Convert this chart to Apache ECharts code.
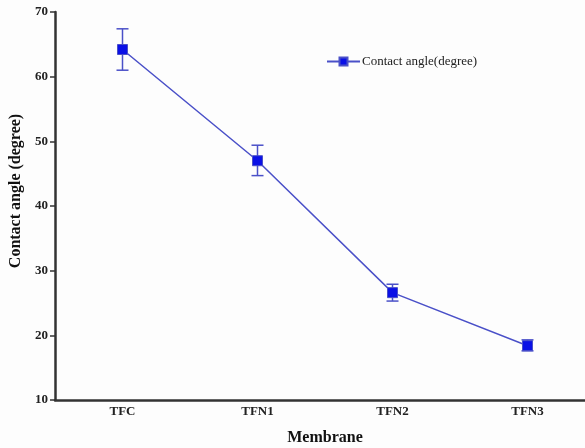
<!DOCTYPE html>
<html><head><meta charset="utf-8">
<script src="https://cdn.jsdelivr.net/npm/echarts@6/dist/echarts.min.js"></script>
<style>html,body{margin:0;padding:0;background:#fdfdfd}#c{width:585px;height:448px}</style>
</head><body><div id="c"></div>
<script>
const categories = ['TFC', 'TFN1', 'TFN2', 'TFN3'];
const contactAngle = [64.2, 47.0, 26.6, 18.4];
const errLow = [61.0, 44.7, 25.3, 17.6];
const errHigh = [67.4, 49.4, 27.9, 19.3];
const yTicks = [10, 20, 30, 40, 50, 60, 70];

const chart = echarts.init(document.getElementById('c'));
const lineColor = '#4a50c8';
const font = '"Liberation Serif", "DejaVu Serif", serif';
chart.setOption({
  backgroundColor: '#fdfdfd',
  animation: false,
  grid: { left: 55, top: 12, width: 540, bottom: 48, outerBoundsMode: 'none', containLabel: false },
  legend: {
    left: 321, top: 50, itemWidth: 33, itemHeight: 10, itemGap: 4,
    textStyle: { fontFamily: font, fontSize: 13, color: '#222', padding: [0, 0, 0, -3] },
    data: ['Contact angle(degree)']
  },
  xAxis: {
    type: 'category', data: categories, boundaryGap: true,
    name: 'Membrane', nameLocation: 'middle', nameGap: 30,
    nameTextStyle: { fontFamily: font, fontSize: 16, fontWeight: 'bold', color: '#111' },
    axisLine: { lineStyle: { color: '#333', width: 2.5 } },
    axisTick: { alignWithLabel: true, length: 5, lineStyle: { color: '#333', width: 1.5 } },
    axisLabel: { fontFamily: font, fontSize: 13, fontWeight: 'bold', color: '#222', margin: 5 }
  },
  yAxis: {
    type: 'value', min: yTicks[0], max: yTicks[yTicks.length - 1], interval: 10,
    name: 'Contact angle (degree)', nameLocation: 'middle', nameGap: 31,
    nameTextStyle: { fontFamily: font, fontSize: 16, fontWeight: 'bold', color: '#111', padding: [0, 0, 0, 30] },
    axisLine: { show: true, lineStyle: { color: '#333', width: 2.5 } },
    axisTick: { show: true, length: 5, lineStyle: { color: '#333', width: 1.5 } },
    axisLabel: { fontFamily: font, fontSize: 13, fontWeight: 'bold', color: '#222', margin: 7 },
    splitLine: { show: false }
  },
  series: [
    {
      name: 'Contact angle(degree)', type: 'line', data: contactAngle,
      symbol: 'rect', symbolSize: 10, z: 3,
      lineStyle: { color: lineColor, width: 1.5 },
      itemStyle: { color: '#0a10e6', borderColor: lineColor, borderWidth: 1 }
    },
    {
      name: 'err', type: 'custom', z: 2,
      data: categories.map((c, i) => [i, errLow[i], errHigh[i]]),
      renderItem: function (params, api) {
        const lo = api.coord([api.value(0), api.value(1)]);
        const hi = api.coord([api.value(0), api.value(2)]);
        const w = 6;
        const st = { stroke: lineColor, lineWidth: 1.5 };
        return { type: 'group', children: [
          { type: 'line', shape: { x1: lo[0], y1: lo[1], x2: hi[0], y2: hi[1] }, style: st },
          { type: 'line', shape: { x1: lo[0] - w, y1: lo[1], x2: lo[0] + w, y2: lo[1] }, style: st },
          { type: 'line', shape: { x1: hi[0] - w, y1: hi[1], x2: hi[0] + w, y2: hi[1] }, style: st }
        ]};
      }
    }
  ]
});
</script></body></html>
